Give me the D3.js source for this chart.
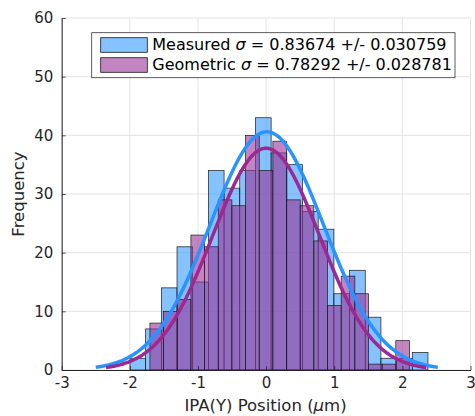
<!DOCTYPE html>
<html>
<head>
<meta charset="utf-8">
<script src="https://cdn.jsdelivr.net/npm/d3@7/dist/d3.min.js"></script>
<style>
  html, body { margin: 0; padding: 0; background: #fff; }
  svg { display: block; font-family: "DejaVu Sans", "Liberation Sans", Arial, sans-serif; }
</style>
</head>
<body>
<svg id="chart" width="475" height="416"></svg>
<script>
// Histogram counts per bin (19 bins each)
const measuredCounts  = [2, 7, 14, 21, 15, 34, 31, 34, 43, 37, 35, 27, 24, 13, 17, 9, 2, 2, 3];
const geometricCounts = [8, 10, 12, 23, 21, 29, 28, 40, 34, 39, 29, 28, 22, 11, 16, 13, 1, 1, 5];

// Bin layout (µm): first edge and bin width
const measuredBinStart  = -1.998;
const measuredBinWidth  = 0.2302;
const geometricBinStart = -1.705;
const geometricBinWidth = 0.2005;

// Normal fit parameters
const measuredMu = 0.01,  measuredSigma = 0.83674,  measuredSigmaErr = "0.030759";
const geometricMu = 0.0, geometricSigma = 0.78292, geometricSigmaErr = "0.028781";

// Axis ticks
const xTicks = [-3, -2, -1, 0, 1, 2, 3];
const yTicks = [0, 10, 20, 30, 40, 50, 60];

const svg = d3.select("#chart");
const plotLeft = 61.7, plotRight = 470.5, plotTop = 18, plotBottom = 370;

const x = d3.scaleLinear().domain([-3, 3]).range([plotLeft, plotRight]);
const y = d3.scaleLinear().domain([0, 60]).range([plotBottom, plotTop]);

const blueFill = "rgb(51,153,255)";
const purpleFill = "rgb(153,51,153)";
const blueLine = "rgb(40,148,255)";
const purpleLine = "rgb(158,40,146)";
const axisColor = "#262626";

// Grid
const grid = svg.append("g").attr("stroke", "#e3e3e3").attr("stroke-width", 1);
grid.selectAll("line.gx").data(xTicks).join("line")
  .attr("x1", d => x(d)).attr("x2", d => x(d)).attr("y1", plotTop).attr("y2", plotBottom);
grid.selectAll("line.gy").data(yTicks).join("line")
  .attr("y1", d => y(d)).attr("y2", d => y(d)).attr("x1", plotLeft).attr("x2", plotRight);

// Histogram bars
function bins(counts, start, width) {
  return counts.map((c, i) => ({ x0: start + i * width, x1: start + (i + 1) * width, n: c }));
}
function drawBars(data, fill) {
  svg.append("g").selectAll("rect").data(data).join("rect")
    .attr("x", d => x(d.x0))
    .attr("width", d => x(d.x1) - x(d.x0))
    .attr("y", d => y(d.n))
    .attr("height", d => y(0) - y(d.n))
    .attr("fill", fill).attr("fill-opacity", 0.6)
    .attr("stroke", "#1a1a1a").attr("stroke-width", 0.7);
}
drawBars(bins(measuredCounts, measuredBinStart, measuredBinWidth), blueFill);
drawBars(bins(geometricCounts, geometricBinStart, geometricBinWidth), purpleFill);

// Fitted normal curves, scaled to counts per bin
function fitCurve(counts, binWidth, mu, sigma) {
  const total = d3.sum(counts);
  const pdf = t => Math.exp(-0.5 * ((t - mu) / sigma) ** 2) / (sigma * Math.sqrt(2 * Math.PI));
  const lo = mu - 3 * sigma, hi = mu + 3 * sigma;
  return d3.range(0, 201).map(k => {
    const t = lo + (hi - lo) * k / 200;
    return [t, total * binWidth * pdf(t)];
  });
}
const line = d3.line().x(d => x(d[0])).y(d => y(d[1]));
svg.append("path").datum(fitCurve(measuredCounts, measuredBinWidth, measuredMu, measuredSigma))
  .attr("d", line).attr("fill", "none").attr("stroke", blueLine).attr("stroke-width", 3.5);
svg.append("path").datum(fitCurve(geometricCounts, geometricBinWidth, geometricMu, geometricSigma))
  .attr("d", line).attr("fill", "none").attr("stroke", purpleLine).attr("stroke-width", 3.5);

// Axes with inward ticks
const xAxis = svg.append("g").attr("transform", `translate(0,${plotBottom})`)
  .call(d3.axisBottom(x).tickValues(xTicks).tickSizeInner(-4).tickSizeOuter(0).tickPadding(7.7)
    .tickFormat(d => String(d)));
const yAxis = svg.append("g").attr("transform", `translate(${plotLeft},0)`)
  .call(d3.axisLeft(y).tickValues(yTicks).tickSizeInner(-4).tickSizeOuter(0).tickPadding(8.4)
    .tickFormat(d => String(d)));
[xAxis, yAxis].forEach(a => {
  a.select(".domain").attr("stroke", axisColor).attr("stroke-width", 1);
  a.selectAll(".tick line").attr("stroke", axisColor).attr("stroke-width", 0.8);
  a.selectAll(".tick text").attr("fill", "#262626").attr("font-size", 15)
    .attr("font-family", "DejaVu Sans, Liberation Sans, Arial, sans-serif");
});

// Axis labels
const xl = svg.append("text").attr("x", 265.5).attr("y", 411).attr("text-anchor", "middle")
  .attr("font-size", 16.5).attr("fill", "#262626");
xl.append("tspan").text("IPA(Y) Position (");
xl.append("tspan").attr("font-style", "italic").text("\u03bc");
xl.append("tspan").text("m)");

svg.append("text").attr("transform", "translate(24,194) rotate(-90)")
  .attr("text-anchor", "middle").attr("font-size", 16.5).attr("fill", "#262626")
  .text("Frequency");

// Legend
const legend = svg.append("g");
legend.append("rect").attr("x", 91.7).attr("y", 32.7).attr("width", 363.3).attr("height", 45)
  .attr("fill", "#fff").attr("stroke", "#333").attr("stroke-width", 0.8);
const entries = [
  { name: "Measured", sigma: measuredSigma, err: measuredSigmaErr, fill: blueFill },
  { name: "Geometric", sigma: geometricSigma, err: geometricSigmaErr, fill: purpleFill }
];
entries.forEach((e, i) => {
  const yy = 37.7 + i * 20;
  legend.append("rect").attr("x", 100.7).attr("y", yy).attr("width", 46.6).attr("height", 14.6)
    .attr("fill", e.fill).attr("fill-opacity", 0.6).attr("stroke", "#1a1a1a").attr("stroke-width", 0.8);
  const t = legend.append("text").attr("x", 152.3).attr("y", yy + 12.5)
    .attr("font-size", 16).attr("fill", "#000");
  t.append("tspan").text(e.name + " ");
  t.append("tspan").attr("font-style", "italic").text("\u03c3");
  t.append("tspan").text(" = " + e.sigma.toFixed(5) + " +/- " + e.err);
});
</script>
</body>
</html>
